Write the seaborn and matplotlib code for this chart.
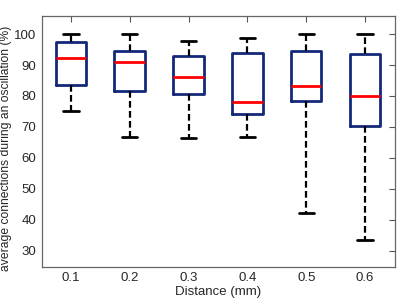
import matplotlib
matplotlib.use("Agg")
import matplotlib.pyplot as plt
import numpy as np
import pandas as pd
import seaborn as sns

# five-number summary for each distance
distances = ["0.1", "0.2", "0.3", "0.4", "0.5", "0.6"]
whisker_low = [75.2, 66.9, 66.3, 66.9, 42.3, 33.4]
q1 = [83.4, 81.5, 80.5, 74.3, 78.3, 70.3]
median = [92.3, 91.0, 86.2, 78.2, 83.2, 79.9]
q3 = [97.3, 94.5, 92.8, 93.8, 94.5, 93.7]
whisker_high = [100.0, 100.0, 97.8, 98.8, 100.0, 100.0]

rows = []
for i, d in enumerate(distances):
    for v in [whisker_low[i], q1[i], median[i], q3[i], whisker_high[i]]:
        rows.append({"Distance": d, "value": v})
df = pd.DataFrame(rows)

sns.set_style("white")
plt.rcParams["font.family"] = ["Liberation Sans", "DejaVu Sans"]
plt.rcParams["xtick.direction"] = "in"
plt.rcParams["ytick.direction"] = "in"

fig = plt.figure(figsize=(3.97, 3.0), dpi=100)
ax = fig.add_axes([0.106, 0.111, 0.889, 0.836])

navy = "#14287a"
sns.boxplot(data=df, x="Distance", y="value", ax=ax, whis=(0, 100), width=0.52,
            fill=False, linewidth=2,
            boxprops=dict(color=navy, linewidth=2),
            medianprops=dict(color="#ff0000", linewidth=2),
            whiskerprops=dict(color="black", linestyle=(0, (3, 1.5)), linewidth=1.6),
            capprops=dict(color="black", linewidth=2))

ax.set_xlim(-0.49, 5.51)
ax.set_ylim(24.8, 105.9)
ax.set_yticks(range(30, 101, 10))
ax.set_xlabel("Distance (mm)", fontsize=9.5, labelpad=1)
ax.set_ylabel("average connections during an oscillation (%)", fontsize=8.7, labelpad=1)
ax.yaxis.set_label_coords(-0.085, 0.47)
ax.tick_params(axis="both", labelsize=9.5, length=4, width=0.8, color="#555555",
               top=True, right=True, pad=4)
for s in ax.spines.values():
    s.set_color("#666666")
    s.set_linewidth(0.9)

fig.savefig("out.png", dpi=100)
